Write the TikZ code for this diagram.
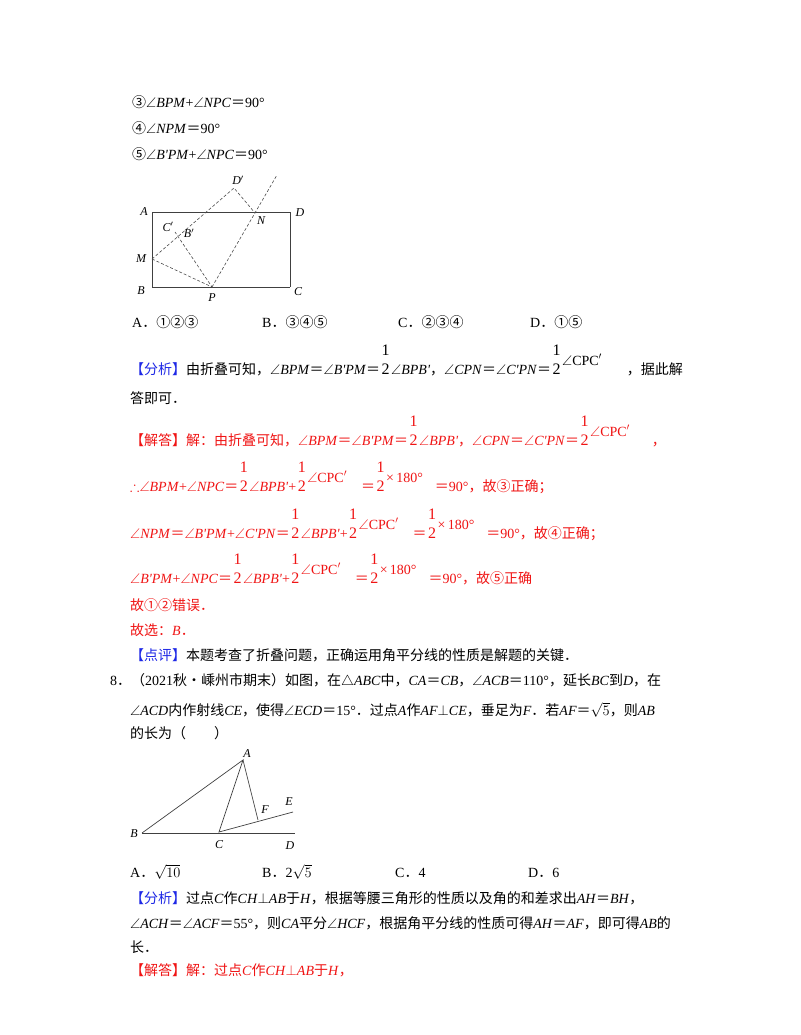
\documentclass[tikz,border=0pt]{standalone}
\usepackage{amssymb}
\usepackage{fontspec}
\setmainfont{Liberation Serif}
\newfontfamily\cjk{Noto Sans CJK SC}
\newcommand\zh[1]{{\cjk #1}}
\newcommand\an[1]{$\angle$\textit{#1}}
\newcommand\q{\textquotesingle}
\newcommand\half{\makebox[11pt][c]{\fontsize{16}{16}\selectfont\makebox[0pt]{\raisebox{19pt}{1}}\makebox[0pt]{2}}}
\newcommand\cpc{\raisebox{9pt}{$\angle$CPC$'$}}
\newcommand\oneeighty{\raisebox{9pt}{×\,180°}}
\definecolor{myred}{RGB}{240,20,20}
\definecolor{myblue}{RGB}{30,40,230}
\tikzset{ln/.style={anchor=base west,inner sep=0pt,font=\fontsize{14}{16}\selectfont},
 rd/.style={ln,text=myred},
 lab/.style={inner sep=0pt,font=\fontsize{12}{12}\selectfont\itshape},
 fig/.style={draw=black!75,line width=0.7pt},
 dsh/.style={draw=black!70,line width=0.6pt,dash pattern=on 3pt off 2pt}}
\begin{document}
\begin{tikzpicture}[x=1pt,y=-1pt]
\useasboundingbox (0,0) rectangle (800,1035);
\fill[white] (0,0) rectangle (800,1035);
% lines of text
\node[ln] (l1) at (132,108) {\zh{③}\an{BPM}+\an{NPC}\zh{＝}90°};
\node[ln] (l2) at (132,134) {\zh{④}\an{NPM}\zh{＝}90°};
\node[ln] (l3) at (132,160) {\zh{⑤}\an{B\q PM}+\an{NPC}\zh{＝}90°};
% figure 1
\coordinate (A) at (152,212); \coordinate (D) at (290,212);
\coordinate (C) at (290,287); \coordinate (B) at (152,287);
\coordinate (M) at (152,259); \coordinate (P) at (212,287);
\coordinate (N) at (255,213); \coordinate (Dp) at (234,188);
\coordinate (Cp) at (175,232); \coordinate (Bp) at (179,239);
\coordinate (T) at (277,175);
\draw[fig] (B) -- (A) -- (D) -- (C);
\draw[fig,line width=1pt] (B) -- (C);
\draw[dsh] (M) -- (Dp) -- (N);
\draw[dsh] (M) -- (P) -- (Cp);
\draw[dsh] (P) -- (T);
\node[lab] (la) at (144,212) {A};
\node[lab] (ld) at (300,213) {D};
\node[lab] (lb) at (141,291) {B};
\node[lab] (lc) at (298,292) {C};
\node[lab] (lm) at (141,259) {M};
\node[lab] (lp) at (212,298) {P};
\node[lab] (lnn) at (261,221) {N};
\node[lab] (ldp) at (238,180) {D$'$};
\node[lab] (lcp) at (168,227) {C$'$};
\node[lab] (lbp) at (189,233) {B$'$};
% options
\node[ln] (o1) at (132,327) {A\zh{．①②③}};
\node[ln] (o2) at (262,327) {B\zh{．③④⑤}};
\node[ln] (o3) at (398,327) {C\zh{．②③④}};
\node[ln] (o4) at (530,327) {D\zh{．①⑤}};
% analysis
\node[ln] (f1) at (130,374) {\textcolor{myblue}{\zh{【分析】}}\zh{由折叠可知，}\an{BPM}\zh{＝}\an{B\q PM}\zh{＝}\half\an{BPB\q}\zh{，}\an{CPN}\zh{＝}\an{C\q PN}\zh{＝}\half\cpc\hspace{25pt}\zh{，据此解}};
\node[ln] (f2) at (130,403) {\zh{答即可．}};
\node[rd] (j1) at (130,445) {\zh{【解答】解：由折叠可知，}\an{BPM}\zh{＝}\an{B\q PM}\zh{＝}\half\an{BPB\q}\zh{，}\an{CPN}\zh{＝}\an{C\q PN}\zh{＝}\half\cpc\hspace{22pt}\zh{，}};
\node[rd] (j2) at (130,491) {$\therefore$\an{BPM}+\an{NPC}\zh{＝}\half\an{BPB\q}+\half\cpc\hspace{14pt}\zh{＝}\half\oneeighty\hspace{12pt}\zh{＝}90°\zh{，故③正确；}};
\node[rd] (j3) at (130,538) {\an{NPM}\zh{＝}\an{B\q PM}+\an{C\q PN}\zh{＝}\half\an{BPB\q}+\half\cpc\hspace{14pt}\zh{＝}\half\oneeighty\hspace{12pt}\zh{＝}90°\zh{，故④正确；}};
\node[rd] (j4) at (130,583) {\an{B\q PM}+\an{NPC}\zh{＝}\half\an{BPB\q}+\half\cpc\hspace{14pt}\zh{＝}\half\oneeighty\hspace{12pt}\zh{＝}90°\zh{，故⑤正确}};
\node[rd] (j5) at (130,610) {\zh{故①②错误．}};
\node[rd] (j6) at (130,635) {\zh{故选：}\textit{B}\zh{．}};
\node[ln] (p1) at (130,660) {\textcolor{myblue}{\zh{【点评】}}\zh{本题考查了折叠问题，正确运用角平分线的性质是解题的关键．}};
% question 8
\node[ln] (q1) at (110,685) {8\zh{．（}2021\zh{秋•嵊州市期末）如图，在}$\triangle$\textit{ABC}\zh{中，}\textit{CA}\zh{＝}\textit{CB}\zh{，}\an{ACB}\zh{＝}110°\zh{，延长}\textit{BC}\zh{到}\textit{D}\zh{，在}};
\node[ln] (q2) at (130,715) {\an{ACD}\zh{内作射线}\textit{CE}\zh{，使得}\an{ECD}\zh{＝}15°\zh{．过点}\textit{A}\zh{作}\textit{AF}$\perp$\textit{CE}\zh{，垂足为}\textit{F}\zh{．若}\textit{AF}\zh{＝}$\sqrt{5}$\zh{，则}\textit{AB}};
\node[ln] (q3) at (130,738) {\zh{的长为（　　）}};
% figure 2
\coordinate (A2) at (243,760); \coordinate (B2) at (142,833);
\coordinate (C2) at (219,832); \coordinate (D2) at (295,833);
\coordinate (E2) at (293,812); \coordinate (F2) at (258,820);
\draw[fig] (B2) -- (D2);
\draw[fig] (B2) -- (A2) -- (C2) -- (E2);
\draw[fig] (A2) -- (F2);
\node[lab] (la2) at (247,754) {A};
\node[lab] (lb2) at (134,834) {B};
\node[lab] (lc2) at (219,845) {C};
\node[lab] (ld2) at (290,846) {D};
\node[lab] (le2) at (289,802) {E};
\node[lab] (lf2) at (265,810) {F};
% options 2
\node[ln] (r1) at (130,877) {A\zh{．}$\sqrt{10}$};
\node[ln] (r2) at (262,877) {B\zh{．}2$\sqrt{5}$};
\node[ln] (r3) at (395,877) {C\zh{．}4};
\node[ln] (r4) at (528,877) {D\zh{．}6};
\node[ln] (s1) at (130,903) {\textcolor{myblue}{\zh{【分析】}}\zh{过点}\textit{C}\zh{作}\textit{CH}$\perp$\textit{AB}\zh{于}\textit{H}\zh{，根据等腰三角形的性质以及角的和差求出}\textit{AH}\zh{＝}\textit{BH}\zh{，}};
\node[ln] (s2) at (130,928) {\an{ACH}\zh{＝}\an{ACF}\zh{＝}55°\zh{，则}\textit{CA}\zh{平分}\an{HCF}\zh{，根据角平分线的性质可得}\textit{AH}\zh{＝}\textit{AF}\zh{，即可得}\textit{AB}\zh{的}};
\node[ln] (s3) at (130,952) {\zh{长．}};
\node[rd] (s4) at (130,975) {\zh{【解答】解：过点}\textit{C}\zh{作}\textit{CH}$\perp$\textit{AB}\zh{于}\textit{H}\zh{，}};
\end{tikzpicture}
\end{document}
